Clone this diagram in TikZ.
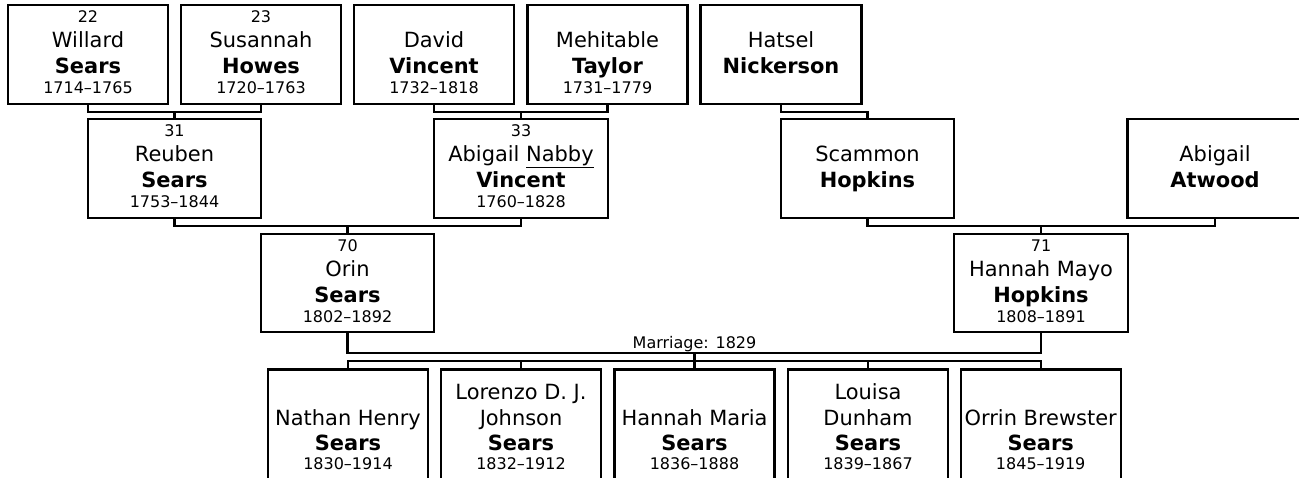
\documentclass[tikz,border=0pt]{standalone}
\usepackage{fontspec}
\setmainfont{DejaVu Sans}
\tikzset{
  pbox/.style={draw, line width=1.7pt, rectangle, inner sep=0pt, outer sep=0pt},
  conn/.style={line width=1.7pt},
  nm/.style={font=\fontsize{15.7}{18}\selectfont, anchor=base, inner sep=0pt},
  nb/.style={font=\fontsize{15.7}{18}\selectfont\bfseries, anchor=base, inner sep=0pt},
  sm/.style={font=\fontsize{12}{14}\selectfont, anchor=base, inner sep=0pt},
}
% id, cx, top, width, height, number, first, last, dates
\newcommand{\pers}[9]{%
  \node[pbox, minimum width=#4*0.75pt, minimum height=#5*0.75pt] (#1) at (#2,#3+#5/2) {};
  \if\relax\detokenize{#6}\relax\else\node[sm] (#1-n) at (#2,#3+17) {#6};\fi
  \node[nm] (#1-f) at (#2,#3+42) {#7};
  \node[nb] (#1-l) at (#2,#3+68.5) {#8};
  \if\relax\detokenize{#9}\relax\else\node[sm] (#1-d) at (#2,#3+88.5) {#9};\fi
}
% id, cx, line1, line2, last, dates
\newcommand{\kid}[6]{%
  \node[pbox, minimum width=120pt, minimum height=90pt] (#1) at (#2,369.5+60) {};
  \if\relax\detokenize{#3}\relax\else\node[nm] (#1-a) at (#2,369.5+30) {#3};\fi
  \node[nm] (#1-f) at (#2,369.5+56) {#4};
  \node[nb] (#1-l) at (#2,369.5+80.8) {#5};
  \node[sm] (#1-d) at (#2,369.5+99.5) {#6};
}
\begin{document}
\begin{tikzpicture}[x=0.75pt,y=-0.75pt]
\clip (0,0) rectangle (1299,478);
\fill[white] (0,0) rectangle (1299,478);
% generation 1
\pers{W}{88}{5.3}{160}{98.7}{22}{Willard}{Sears}{1714–1765}
\pers{S}{261}{5.3}{160}{98.7}{23}{Susannah}{Howes}{1720–1763}
\pers{D}{434}{5.3}{160}{98.7}{}{David}{Vincent}{1732–1818}
\pers{M}{607.5}{5.3}{160}{98.7}{}{Mehitable}{Taylor}{1731–1779}
\pers{Ha}{781}{5.3}{161}{98.7}{}{Hatsel}{Nickerson}{}
% generation 2
\pers{R}{174.5}{119.3}{173}{99}{31}{Reuben}{Sears}{1753–1844}
\pers{A}{521}{119.3}{174}{99}{33}{Abigail \underline{Nabby}}{Vincent}{1760–1828}
\pers{Sc}{867.5}{119.3}{173}{99}{}{Scammon}{Hopkins}{}
\pers{At}{1215}{119.3}{175}{99}{}{Abigail}{Atwood}{}
% generation 3
\pers{O}{347.5}{234}{173.5}{97.7}{70}{Orin}{Sears}{1802–1892}
\pers{HM}{1041}{234}{174}{97.7}{71}{Hannah Mayo}{Hopkins}{1808–1891}
% children
\kid{C1}{348}{}{Nathan Henry}{Sears}{1830–1914}
\kid{C2}{521}{Lorenzo D. J.}{Johnson}{Sears}{1832–1912}
\kid{C3}{694.5}{}{Hannah Maria}{Sears}{1836–1888}
\kid{C4}{868}{Louisa}{Dunham}{Sears}{1839–1867}
\kid{C5}{1040.7}{}{Orrin Brewster}{Sears}{1845–1919}
% connectors
\draw[conn] (W.south) -- ++(0,7.7) -| (S.south);
\draw[conn] (R.north) -- ++(0,-7.6);
\draw[conn] (D.south) -- ++(0,7.7) -| (M.south);
\draw[conn] (A.north) -- ++(0,-7.6);
\draw[conn] (Ha.south) -- ++(0,7.7) -| (Sc.north);
\draw[conn] (R.south) -- ++(0,7.7) -| (A.south);
\draw[conn] (O.north) -- ++(0,-7.7);
\draw[conn] (Sc.south) -- ++(0,7.7) -| (At.south);
\draw[conn] (HM.north) -- ++(0,-7.7);
\draw[conn] (O.south) -- ++(0,21) -| (HM.south);
\draw[conn] (C1.north) -- ++(0,-8.5) -| (C5.north);
\draw[conn] (C2.north) -- ++(0,-8.5);
\draw[conn] (C3.north) -- ++(0,-16.8);
\draw[conn] (C4.north) -- ++(0,-8.5);
\node[sm] (mlab) at (694.5,348.5) {Marriage: 1829};
\end{tikzpicture}
\end{document}
